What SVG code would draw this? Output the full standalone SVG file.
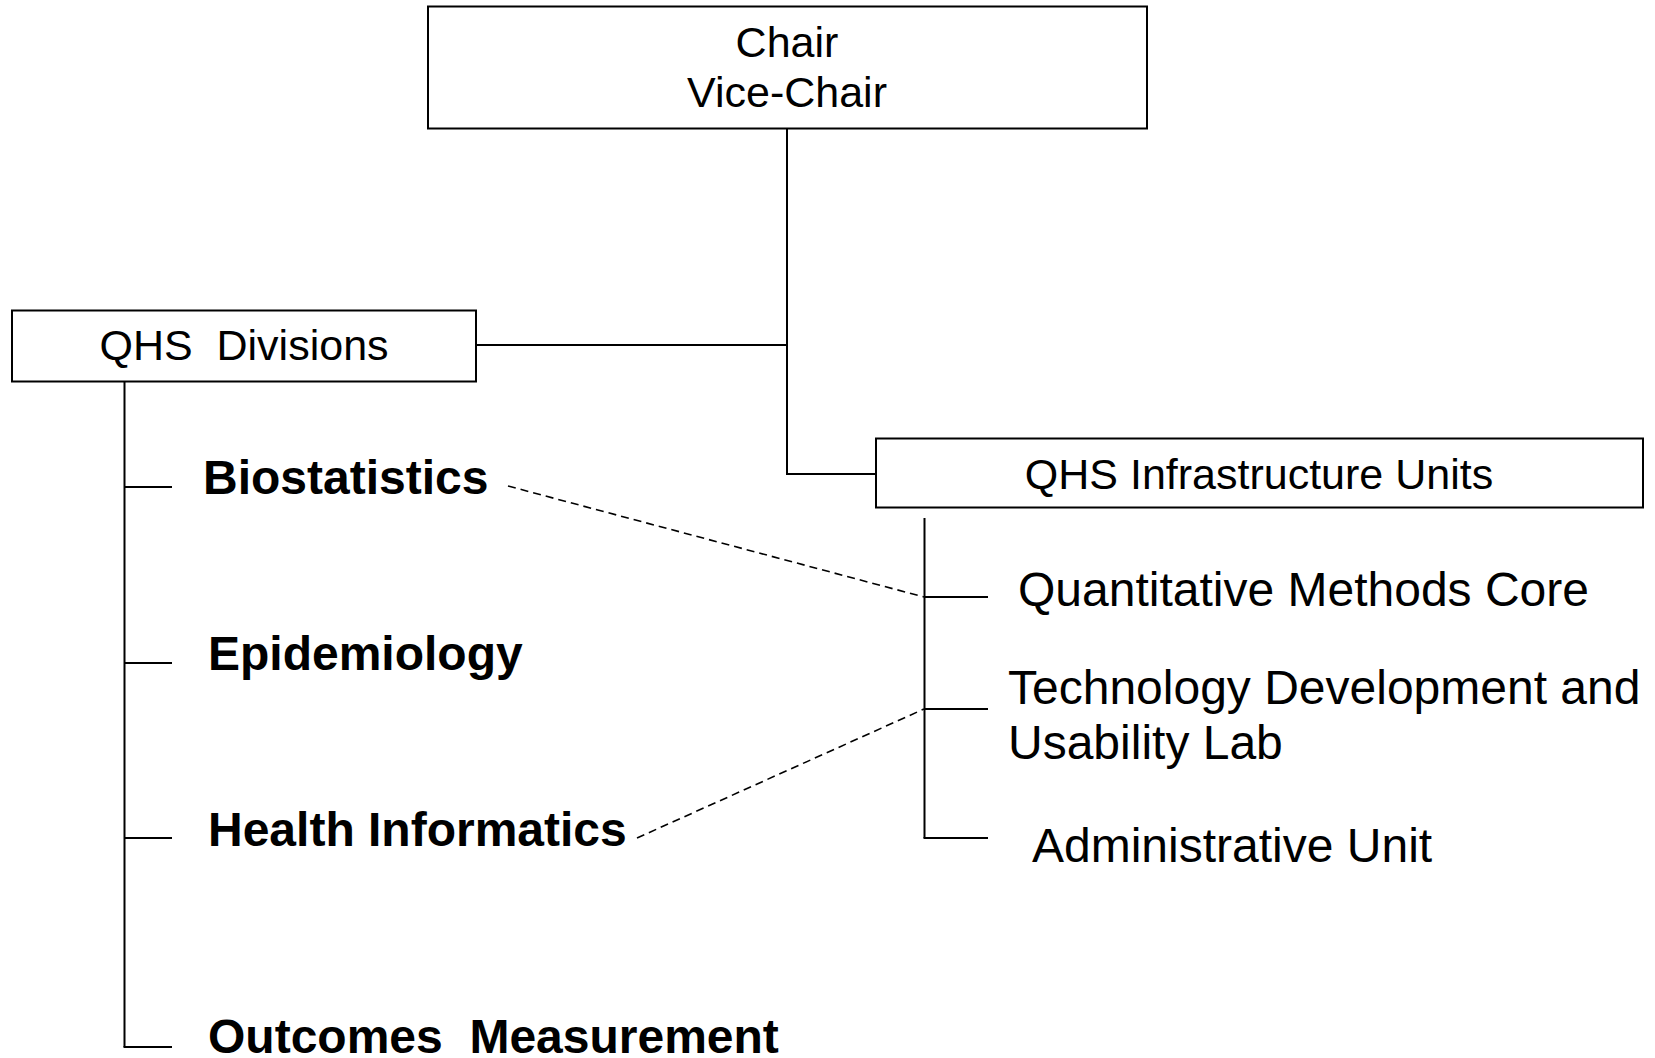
<svg xmlns="http://www.w3.org/2000/svg" width="1655" height="1058" viewBox="0 0 1655 1058">
<style>
.box{fill:#fff;stroke:#000;stroke-width:2}
.ln{fill:none;stroke:#000;stroke-width:2}
.dash{fill:none;stroke:#000;stroke-width:1.6;stroke-dasharray:8 5}
text{font-family:"Liberation Sans",Arial,sans-serif;fill:#000}
.hd{font-size:43px;text-anchor:middle}
.div{font-size:48px;font-weight:bold}
.unit{font-size:48px}
</style>
<rect width="1655" height="1058" fill="#fff"/>
<g id="connectors">
<polyline class="ln" points="787,129 787,474 876,474"/>
<line class="ln" x1="476" y1="345" x2="787" y2="345"/>
<line class="ln" x1="124.5" y1="382" x2="124.5" y2="1047"/>
<line class="ln" x1="124.5" y1="487" x2="172" y2="487"/>
<line class="ln" x1="124.5" y1="663" x2="172" y2="663"/>
<line class="ln" x1="124.5" y1="838" x2="172" y2="838"/>
<line class="ln" x1="123.5" y1="1047" x2="172" y2="1047"/>
<line class="ln" x1="924.5" y1="518" x2="924.5" y2="838"/>
<line class="ln" x1="924.5" y1="597" x2="988" y2="597"/>
<line class="ln" x1="924.5" y1="709" x2="988" y2="709"/>
<line class="ln" x1="923.5" y1="838" x2="988" y2="838"/>
<line class="dash" x1="508" y1="486" x2="924" y2="597"/>
<line class="dash" x1="637" y1="838" x2="924" y2="709"/>
</g>
<g id="chair">
<rect class="box" x="428" y="6.5" width="719" height="122"/>
<text class="hd" x="787" y="57">Chair</text>
<text class="hd" x="787" y="107">Vice-Chair</text>
</g>
<g id="qhs-divisions">
<rect class="box" x="12" y="310.5" width="464" height="71"/>
<text class="hd" x="244" y="360" xml:space="preserve">QHS  Divisions</text>
</g>
<g id="qhs-infrastructure">
<rect class="box" x="876" y="438.5" width="767" height="69"/>
<text class="hd" x="1259" y="489">QHS Infrastructure Units</text>
</g>
<g id="biostatistics"><text class="div" x="203" y="494">Biostatistics</text></g>
<g id="epidemiology"><text class="div" x="208" y="670">Epidemiology</text></g>
<g id="health-informatics"><text class="div" x="208" y="846">Health Informatics</text></g>
<g id="outcomes-measurement"><text class="div" x="208" y="1053" xml:space="preserve">Outcomes  Measurement</text></g>
<g id="qmc"><text class="unit" x="1018" y="606">Quantitative Methods Core</text></g>
<g id="tdul"><text class="unit" x="1008" y="704">Technology Development and</text><text class="unit" x="1008" y="759">Usability Lab</text></g>
<g id="admin"><text class="unit" x="1032" y="862">Administrative Unit</text></g>
</svg>
